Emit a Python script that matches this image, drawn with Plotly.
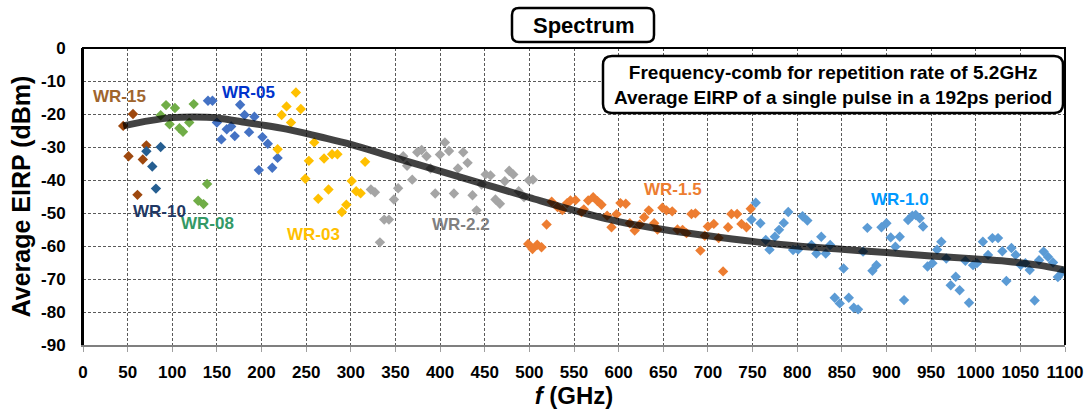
import plotly.graph_objects as go

# ---------------- data ----------------
wr15_f = [45, 56, 51, 71, 67, 61]
wr15_db = [-23.6, -20, -32.8, -29.5, -33.8, -44.5]

wr10_f = [71, 87, 77.6, 81.7]
wr10_db = [-31.3, -30, -35.9, -42.6]

wr08_f = [87, 93, 97, 103, 108, 112, 119, 124, 129, 135, 139]
wr08_db = [-20.4, -17.3, -23.1, -18.2, -24.3, -25.4, -22.6, -17, -46.3, -47.3, -41.2]

wr05_f = [140, 145, 150, 155, 161, 166, 170, 176, 181, 186, 192, 197, 201, 207, 212, 218]
wr05_db = [-16, -16, -22.6, -27.7, -24.6, -23.8, -26.7, -17.2, -20.3, -25.5, -20.8, -37,
           -27, -29, -36.3, -33.3]

wr03_f = [218, 222.5, 228, 233, 238.5, 244, 249, 253, 259, 263.5, 270, 275, 279, 285,
          290, 295, 301, 306, 311, 316]
wr03_db = [-30.7, -20.3, -17.7, -22.6, -13.5, -18.5, -39.6, -34.2, -28.6, -45.7, -33.5,
           -42.9, -32.2, -32.2, -49.7, -47.5, -40.3, -43.4, -44, -34.5]

wr22_f = [322.5, 327, 332.6, 337.4, 342.7, 348.3, 353, 358.7, 363, 368.8, 374.4, 379.3,
          384.8, 389.3, 394.5, 399.8, 405.4, 410, 415.5, 420, 425.9, 430.8, 436.3, 440.9,
          446.5, 451, 456.5, 462, 467, 472.5, 477.4, 482, 488, 494, 499.4, 504]
wr22_db = [-42.9, -43.7, -58.9, -52, -52, -45.9, -42.5, -32.8, -35.7, -39.9, -31.6, -30.9,
           -32.8, -36.5, -44.1, -32.3, -28.6, -31.2, -44.1, -36.5, -31.6, -34.8, -44.6, -49.2,
           -41.4, -38.3, -38.6, -45.9, -47.2, -40.4, -37.2, -38.3, -43.4, -45.2, -40.1, -39.9]

wr15b_f = [498.7, 503.5, 508.8, 513.6, 519.3, 525, 531.5, 537, 542.3, 546, 551.7, 558.4,
           561, 565.9, 571.5, 576.3, 580.8, 587.1, 592, 597.6, 602, 608, 612.5, 618, 623.7,
           628.6, 633.8, 639.8, 643.5, 649, 653.5, 660, 665.9, 671.6, 676, 681.6, 686,
           691.6, 696.5, 700, 706.6, 712, 717, 722.6, 726.3, 732.7, 737.6, 743.2, 748]
wr15b_db = [-59.4, -60.9, -59.6, -60.4, -53.5, -46.6, -48.2, -49.1, -47, -46.2, -46.1, -49.7,
            -48.9, -46.2, -45.2, -46.4, -47.5, -50.8, -54.3, -50.4, -47, -47.2, -53.1, -55.3,
            -53.5, -51.3, -49.2, -53.1, -55, -48.4, -49.2, -49.5, -55, -55.1, -56.1, -50.3,
            -50.1, -61.4, -56.9, -54.1, -53.3, -57.6, -67.7, -54.3, -50.3, -50.3, -53.3,
            -54.3, -48.7]

wr10b_f = [748.8, 753.6, 758.8, 764.8, 769, 775, 779.7, 785, 790, 795.4, 801, 806, 811.4,
           816, 821.5, 827, 832, 837, 842, 847.7, 852, 857.8, 863.4, 868.2, 873.8, 878.6,
           884.3, 888.8, 894.4, 900, 904.8, 910, 914.9, 919.7, 924.2, 929, 932.8, 937.3,
           941, 946, 951.5, 956.7, 961.5, 967, 972, 977.6, 982, 988.4, 992.5, 997, 1001.4,
           1008, 1013.8, 1018.7, 1025, 1029.8, 1034.3, 1040, 1044.8, 1050.4, 1055.6,
           1060.5, 1066, 1070.9, 1076, 1081, 1086.6, 1092, 1097]
wr10b_db = [-52, -46.9, -53.1, -58.2, -61.1, -57.2, -55.1, -53, -49.7, -61.2, -61.1, -51,
            -52.3, -59.7, -62.3, -57.2, -62.3, -59.7, -75.7, -77.4, -66.8, -75.7, -78.7,
            -79.2, -61.7, -54.5, -67.5, -65.8, -54.3, -53.1, -57.4, -60.2, -57.2, -76.4,
            -52.1, -50.8, -50.6, -51.6, -54.1, -66.2, -65.2, -61.1, -58.7, -63.8, -71.9,
            -69.3, -73.4, -64.5, -77.2, -65.8, -65.2, -58.7, -62.7, -57.6, -57.6, -61.6,
            -70.6, -60.6, -62.7, -65.8, -65.2, -67.3, -76.5, -64.3, -61.7, -63.3, -65,
            -69.4, -67.8]

fit_f = [45, 75, 100, 125, 150, 183, 200, 228, 265, 300, 350, 400, 450, 500, 550, 600,
         650, 700, 750, 800, 850, 900, 950, 1000, 1034, 1070, 1100]
fit_db = [-23.6, -22.0, -21.1, -20.9, -21.2, -22.6, -23.3, -24.6, -26.9, -29.2, -33.3,
          -37.3, -41.3, -45.3, -49.2, -52.6, -55.0, -56.9, -58.6, -60.0, -61.0, -62.0,
          -63.0, -63.9, -64.6, -65.8, -67.3]

x_ticks = list(range(0, 1101, 50))
y_ticks = list(range(-90, 1, 10))

series = [
    ("WR-15", wr15_f, wr15_db, "#9E480E"),
    ("WR-10", wr10_f, wr10_db, "#255E91"),
    ("WR-08", wr08_f, wr08_db, "#70AD47"),
    ("WR-05", wr05_f, wr05_db, "#4472C4"),
    ("WR-03", wr03_f, wr03_db, "#FFC000"),
    ("WR-2.2", wr22_f, wr22_db, "#A5A5A5"),
    ("WR-1.5", wr15b_f, wr15b_db, "#ED7D31"),
    ("WR-1.0", wr10b_f, wr10b_db, "#5B9BD5"),
]

labels = [
    ("WR-15", 41, -14.8, "#A0652D"),
    ("WR-10", 86, -49.4, "#1F3864"),
    ("WR-08", 139, -53.3, "#339966"),
    ("WR-05", 185, -13.4, "#0033CC"),
    ("WR-03", 258, -56.4, "#FFC000"),
    ("WR-2.2", 423, -53.6, "#808080"),
    ("WR-1.5", 661, -43.0, "#ED7D31"),
    ("WR-1.0", 915, -45.8, "#0099FF"),
]

# ---------------- figure ----------------
W, H = 1091, 409
L, R, T, B = 83, 26, 48, 64
PW, PH = W - L - R, H - T - B
FONT = "Liberation Sans, Arial, sans-serif"

fig = go.Figure()
for name, fx, fy, col in series:
    fig.add_trace(go.Scatter(x=fx, y=fy, mode="markers", name=name,
                             marker=dict(symbol="diamond", size=8, color=col,
                                         line=dict(width=0))))
fig.add_trace(go.Scatter(x=fit_f, y=fit_db, mode="lines", name="fit",
                         line=dict(color="rgba(0,0,0,0.74)", width=7, shape="spline",
                                   smoothing=1.0)))

for text, fx, fy, col in labels:
    fig.add_annotation(x=fx, y=fy, text=text, showarrow=False,
                       xanchor="center", yanchor="middle",
                       font=dict(family=FONT, size=17, color=col, weight="bold"))


def px2paper(px, py):
    return (px - L) / PW, (H - B - py) / PH


def rrect(x0, y0, x1, y1, r):
    def p(x, y):
        a, b = px2paper(x, y)
        return f"{a:.5f},{b:.5f}"
    path = (f"M {p(x0 + r, y0)} L {p(x1 - r, y0)} Q {p(x1, y0)} {p(x1, y0 + r)} "
            f"L {p(x1, y1 - r)} Q {p(x1, y1)} {p(x1 - r, y1)} "
            f"L {p(x0 + r, y1)} Q {p(x0, y1)} {p(x0, y1 - r)} "
            f"L {p(x0, y0 + r)} Q {p(x0, y0)} {p(x0 + r, y0)} Z")
    return path


# title box
fig.add_shape(type="path", xref="paper", yref="paper", path=rrect(512, 8, 654, 42, 7),
              line=dict(color="black", width=2.5), fillcolor="white", layer="above")
tx, ty = px2paper(583, 25)
fig.add_annotation(x=tx, y=ty, xref="paper", yref="paper", text="Spectrum",
                   showarrow=False, xanchor="center", yanchor="middle",
                   font=dict(family=FONT, size=22, color="black", weight="bold"))

# info box
fig.add_shape(type="path", xref="paper", yref="paper", path=rrect(603, 56, 1063, 113, 9),
              line=dict(color="black", width=2.5), fillcolor="white", layer="above")
ix, iy = px2paper(833, 85)
fig.add_annotation(x=ix, y=iy, xref="paper", yref="paper",
                   text="Frequency-comb for repetition rate of 5.2GHz<br>"
                        "Average EIRP of a single pulse in a 192ps period",
                   showarrow=False, xanchor="center", yanchor="middle",
                   font=dict(family=FONT, size=19, color="black", weight="bold"))

# frame (left, top, right)
fig.add_shape(type="path", xref="paper", yref="paper",
              path="M 0,0 L 0,1 L 1,1 L 1,0", line=dict(color="black", width=2),
              layer="above")

grid_common = dict(showgrid=True, gridcolor="#5a5a5a", gridwidth=1, griddash="3px,2px",
                   zeroline=False, automargin=False)

fig.update_layout(
    width=W, height=H,
    margin=dict(l=L, r=R, t=T, b=B, pad=0, autoexpand=False),
    paper_bgcolor="white", plot_bgcolor="white",
    showlegend=False,
    font=dict(family=FONT, color="black"),
    xaxis=dict(range=[0, 1100], tickvals=x_ticks, ticktext=[str(v) for v in x_ticks],
               showline=True, linecolor="#7F7F7F", linewidth=2,
               ticks="outside", ticklen=5, tickcolor="#A0A0A0", tickwidth=1,
               ticklabelstandoff=6,
               tickfont=dict(family=FONT, size=17, color="black", weight="bold"),
               title=dict(text="<i>f</i> (GHz)", standoff=10,
                          font=dict(family=FONT, size=24, color="black", weight="bold")),
               **grid_common),
    yaxis=dict(range=[-90, 0], tickvals=y_ticks, ticktext=[str(v) for v in y_ticks],
               showline=True, linecolor="black", linewidth=2,
               ticks="", ticklabelstandoff=12,
               tickfont=dict(family=FONT, size=17, color="black", weight="bold"),
               title=dict(text="Average EIRP (dBm)", standoff=3,
                          font=dict(family=FONT, size=25, color="black", weight="bold")),
               **grid_common),
)

fig.write_html("out.html", config={"displayModeBar": False},
               post_script="document.body.style.margin='0';")
